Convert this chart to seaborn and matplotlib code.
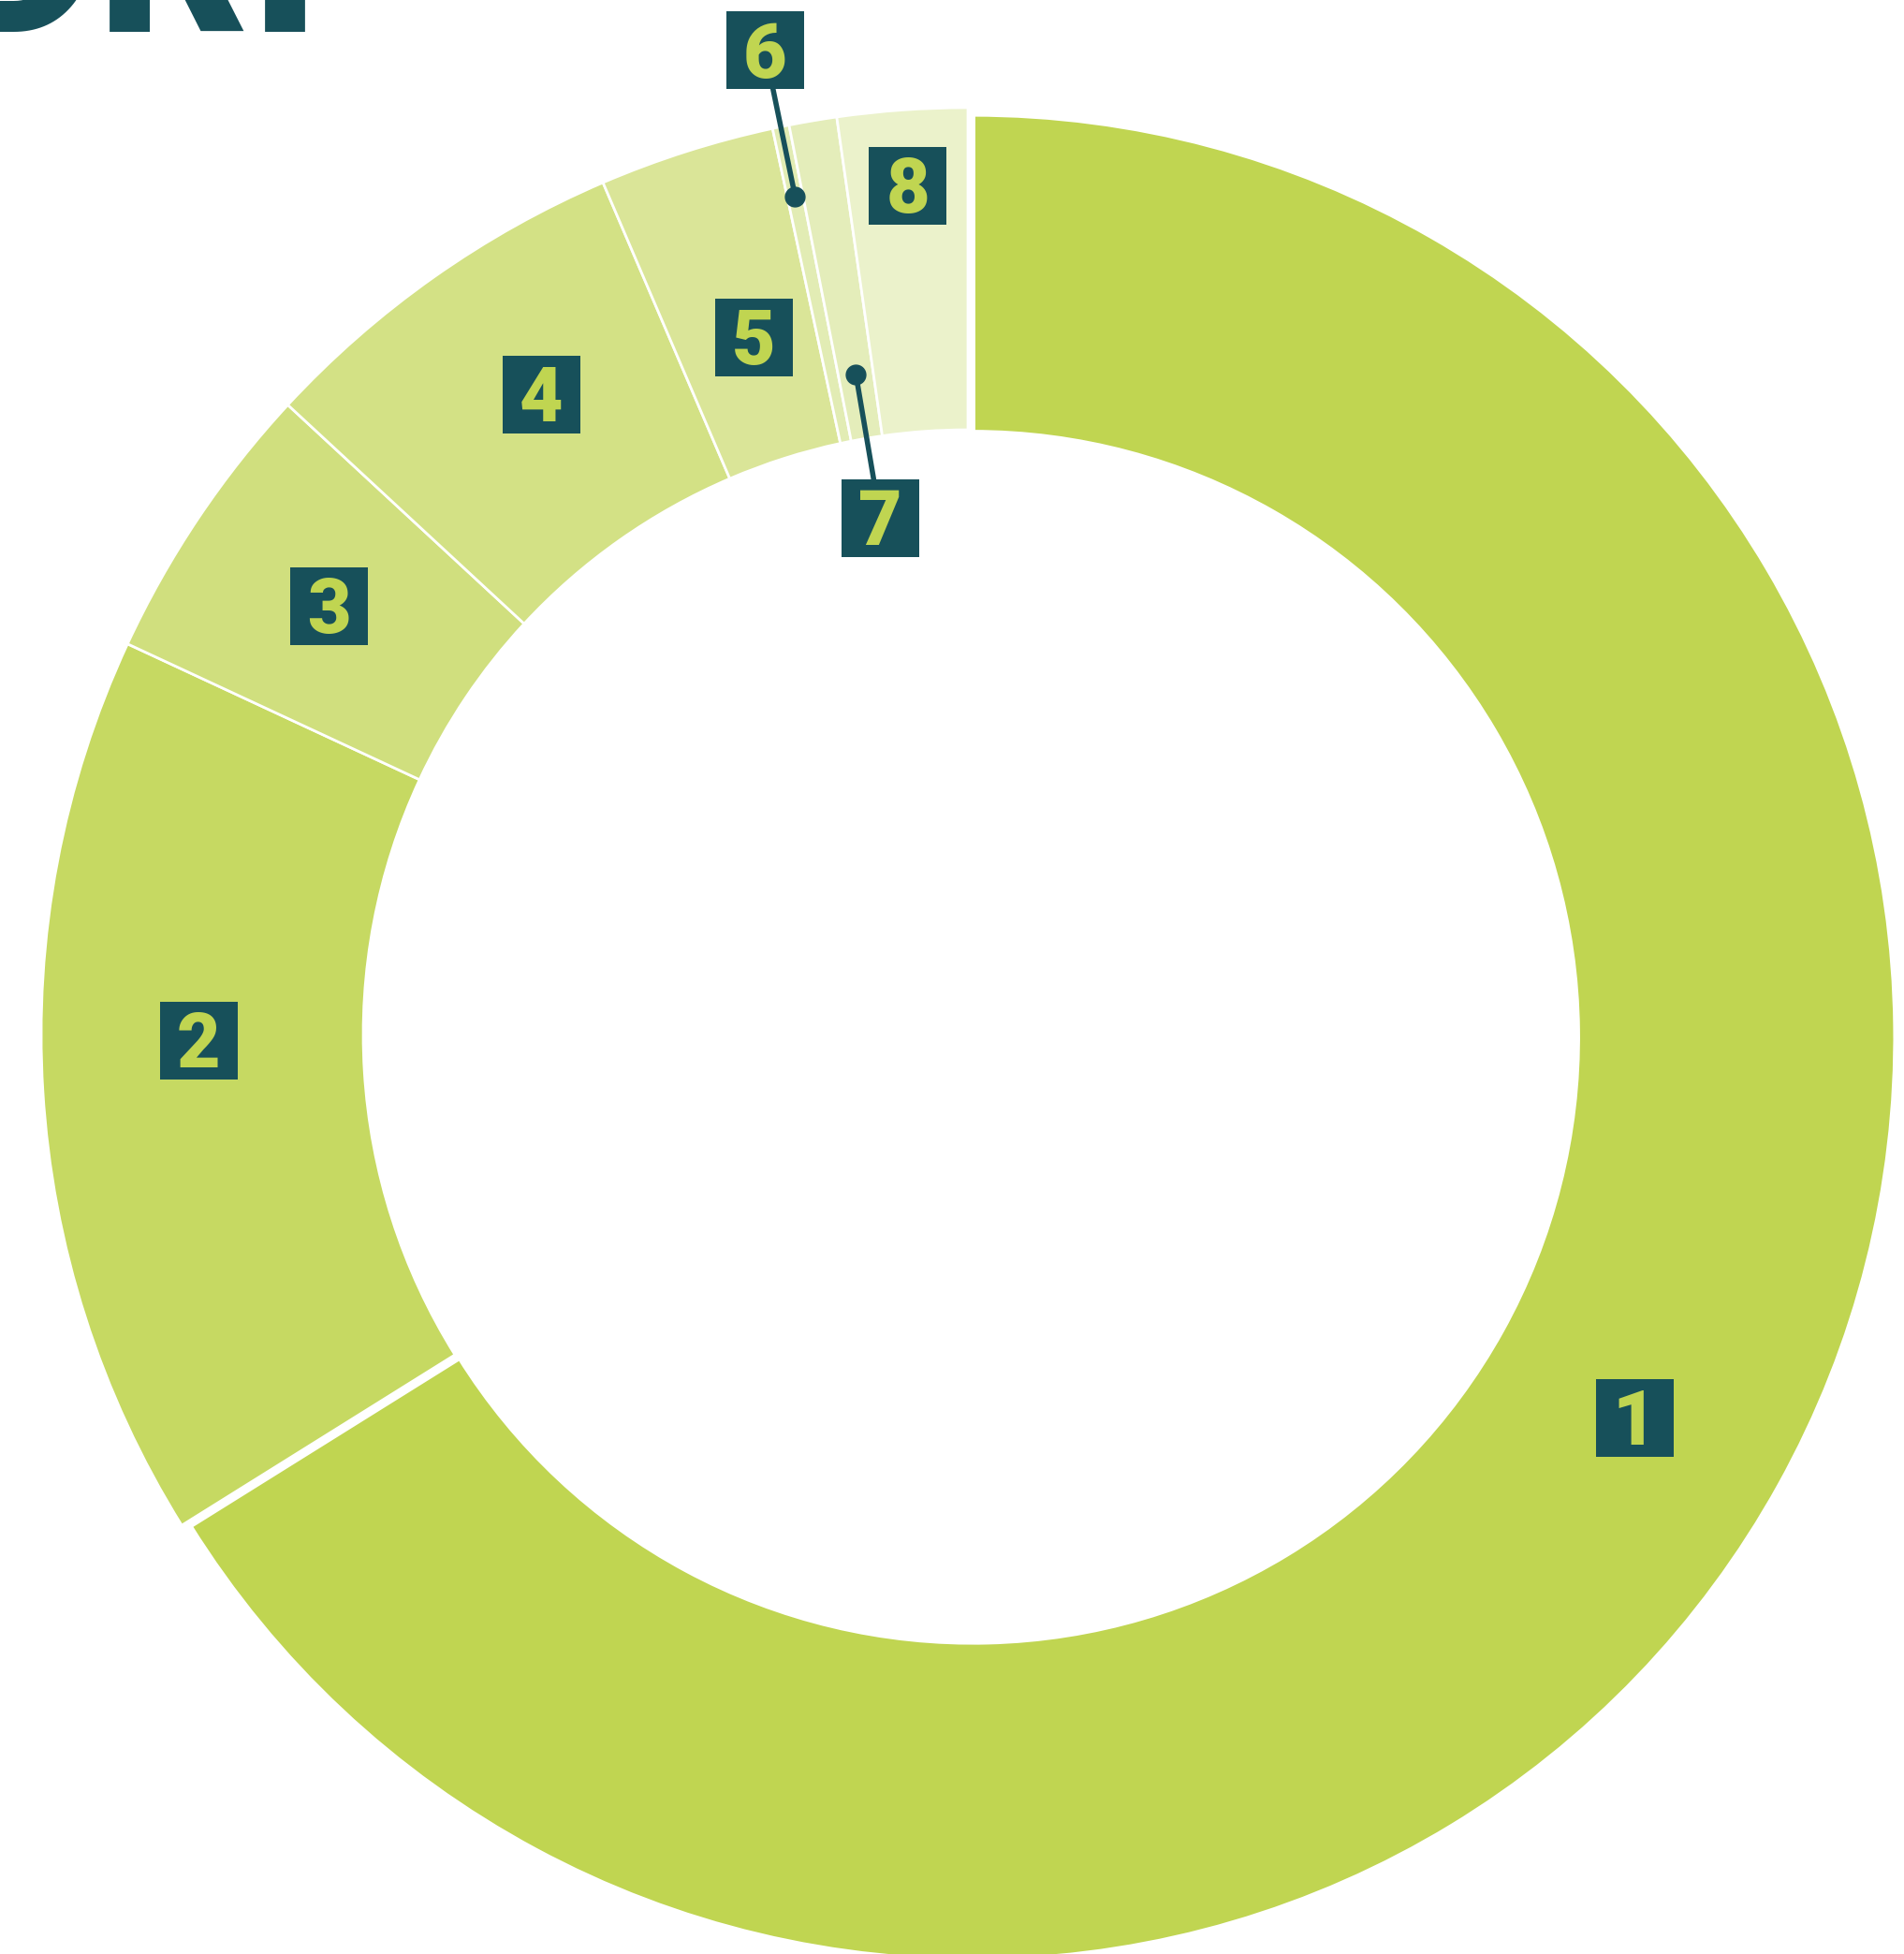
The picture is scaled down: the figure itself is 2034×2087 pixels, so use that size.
# Donut chart recreation - 8 shares, numbered callout boxes
import numpy as np
import matplotlib
matplotlib.use("Agg")
import matplotlib.pyplot as plt
from matplotlib.patches import Rectangle
import seaborn as sns

sns.set_theme(style="white")
plt.rcParams["font.family"] = ["Roboto", "DejaVu Sans"]

# ── DATA ────────────────────────────────────────────────────
labels = ["1", "2", "3", "4", "5", "6", "7", "8"]
shares = [66.1, 15.8, 4.96, 6.67, 3.06, 0.29, 0.83, 2.26]
colors = ["#C0D551", "#C6D962", "#D0DF7E", "#D3E185",
          "#DAE598", "#E2ECB4", "#E4EDBA", "#EBF2CB"]
title_text = "DRI"

DARK = "#17505A"
LIME = "#C0D551"

# label radius (fraction of outer radius) and small angle nudges (deg)
label_r = [0.83, 0.83, 0.83, 0.83, 0.787, 1.084, 0.565, 0.918]
label_dang = [-0.9, -3.1, 0, -1.5, -0.6, 0, 0, 0]
# 6 and 7 get a leader with a dot
dot_r = {5: 0.923, 6: 0.722}

# ── LAYOUT (pixels) ─────────────────────────────────────────
W, H = 2034, 2087
CX, CY = 1034, 1105      # centre, from top-left
R = 990                  # outer radius
RING = 0.3475

fig = plt.figure(figsize=(W / 100, H / 100), dpi=100)
ax = fig.add_axes([0, 0, 1, 1])

explode = [0.006] + [0] * (len(shares) - 1)
wedges, _ = ax.pie(shares, colors=colors, startangle=90, counterclock=False,
                   radius=1, explode=explode,
                   wedgeprops=dict(width=RING, edgecolor="white", linewidth=2))
# big slice sits slightly inside the others
wedges[0].set_radius(0.996)
wedges[0].set_width(RING - 0.004)
wedges[0].set_linewidth(4)

ax.set_aspect("auto")
ax.set_xlim(-CX / R, (W - CX) / R)
ax.set_ylim(-(H - CY) / R, CY / R)
ax.axis("off")

# ── LABEL BOXES ─────────────────────────────────────────────
box = 83 / R
fs = 58
base_off = 0.355 * fs * 100 / 72 / R

for i, (w, lab) in enumerate(zip(wedges, labels)):
    ang = np.deg2rad((w.theta1 + w.theta2) / 2 + label_dang[i])
    ux, uy = np.cos(ang), np.sin(ang)
    x, y = label_r[i] * ux, label_r[i] * uy
    if i in dot_r:
        dx, dy = dot_r[i] * ux, dot_r[i] * uy
        ax.plot([dx, x], [dy, y], color=DARK, lw=4, zorder=3, solid_capstyle="butt")
        ax.plot(dx, dy, "o", color=DARK, ms=15, zorder=3)
    ax.add_patch(Rectangle((x - box / 2, y - box / 2), box, box,
                           facecolor=DARK, edgecolor="none", zorder=4))
    ax.text(x, y - base_off, lab, ha="center", va="baseline", color=LIME,
            fontsize=fs, fontweight="black", zorder=5)

# ── TITLE FRAGMENT (cut off at the top, as in the source) ───
fig.text(-57 / W, 1 - 34 / H, title_text, ha="left", va="baseline",
         fontsize=180, fontweight="black", color=DARK)

fig.savefig("out.png", dpi=100)
